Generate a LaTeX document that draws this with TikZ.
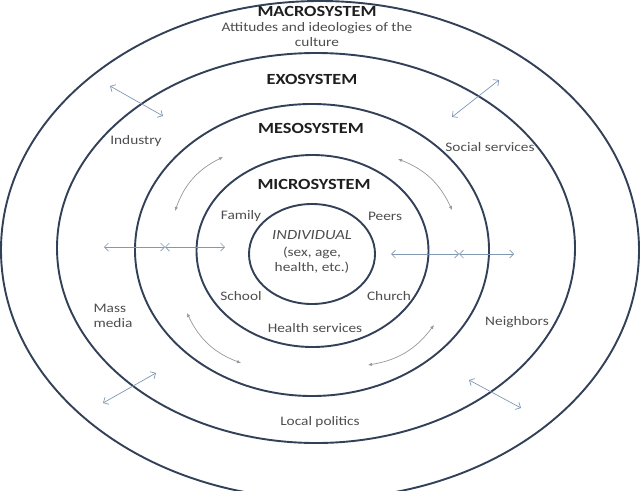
\documentclass[tikz,border=0pt]{standalone}
\usepackage{fontspec}
\setmainfont[FakeStretch=1.18]{Carlito}
\usetikzlibrary{arrows.meta}

\definecolor{ringcol}{RGB}{50,64,88}
\definecolor{linkcol}{RGB}{128,152,178}
\definecolor{flowcol}{RGB}{150,152,158}
\definecolor{titlecol}{RGB}{30,30,32}
\definecolor{textcol}{RGB}{78,78,80}

\tikzset{
  ring/.style={draw=ringcol, line width=1.9pt},
  title/.style={font=\bfseries\fontsize{15.5}{18}\selectfont, text=titlecol, inner sep=0pt},
  lbl/.style={font=\fontsize{13}{15}\selectfont, text=textcol, inner sep=0pt},
  link/.style={draw=linkcol, line width=0.7pt, {Straight Barb[length=4pt,width=8pt]}-{Straight Barb[length=4pt,width=8pt]}},
  flow/.style={draw=flowcol, line width=0.7pt, {Latex[length=4pt,width=3.5pt]}-{Latex[length=4pt,width=3.5pt]}}
}

\begin{document}
\begin{tikzpicture}[x=1pt, y=-1pt]
\useasboundingbox (0,0) rectangle (642,490);
\fill[white] (0,0) rectangle (642,490);
\clip (0,0) rectangle (642,490);

% the five systems
\draw[ring] (320,250) ellipse [x radius=319, y radius=249];
\draw[ring] (316,248) ellipse [x radius=259, y radius=195];
\draw[ring] (312,250) ellipse [x radius=177, y radius=146];
\draw[ring] (312.5,251) ellipse [x radius=116, y radius=96];
\draw[ring] (312,254) ellipse [x radius=63, y radius=50];

\node[title] (macro) at (317,11) {MACROSYSTEM};
\node[lbl, align=center] (culture) at (317,35) {Attitudes and ideologies of the\\culture};
\node[title] (exo) at (312,79) {EXOSYSTEM};
\node[title] (meso) at (311,128) {MESOSYSTEM};
\node[title] (micro) at (314,184) {MICROSYSTEM};

\node[lbl, font=\itshape\fontsize{14}{16}\selectfont] (indiv) at (312,235) {INDIVIDUAL};
\node[lbl, align=center] (traits) at (312,260) {(sex, age,\\health, etc.)};

\node[lbl] (family) at (241,216) {Family};
\node[lbl] (peers) at (385,216) {Peers};
\node[lbl] (school) at (241,296) {School};
\node[lbl] (church) at (389,296) {Church};
\node[lbl] (health) at (315,328) {Health services};

\node[lbl] (industry) at (136,141) {Industry};
\node[lbl] (social) at (490,147) {Social services};
\node[lbl, align=left] (media) at (113,316) {Mass\\media};
\node[lbl] (neighbors) at (517,322) {Neighbors};
\node[lbl] (politics) at (320,422) {Local politics};

% arrow ends
\coordinate (a1) at (110,86);  \coordinate (b1) at (163,116);
\coordinate (a2) at (499,80);  \coordinate (b2) at (452,117);
\coordinate (a3) at (156,373); \coordinate (b3) at (103,403);
\coordinate (a4) at (469,380); \coordinate (b4) at (521,408);
\coordinate (l1) at (104,247); \coordinate (l2) at (165,247); \coordinate (l3) at (225,247);
\coordinate (r1) at (391,254); \coordinate (r2) at (459,254); \coordinate (r3) at (514,254);
\coordinate (c1) at (223,157); \coordinate (d1) at (175,211);
\coordinate (c2) at (398,159); \coordinate (d2) at (452,210);
\coordinate (c3) at (187,313); \coordinate (d3) at (241,363);
\coordinate (c4) at (434,325); \coordinate (d4) at (368,365);

\draw[link] (a1) -- (b1);
\draw[link] (a2) -- (b2);
\draw[link] (a3) -- (b3);
\draw[link] (a4) -- (b4);
\draw[link] (l1) -- (l2);
\draw[link] (l2) -- (l3);
\draw[link] (r1) -- (r2);
\draw[link] (r2) -- (r3);

\draw[flow] (c1) to[bend right=22] (d1);
\draw[flow] (c2) to[bend left=22] (d2);
\draw[flow] (c3) to[bend right=22] (d3);
\draw[flow] (c4) to[bend left=22] (d4);
\end{tikzpicture}
\end{document}
